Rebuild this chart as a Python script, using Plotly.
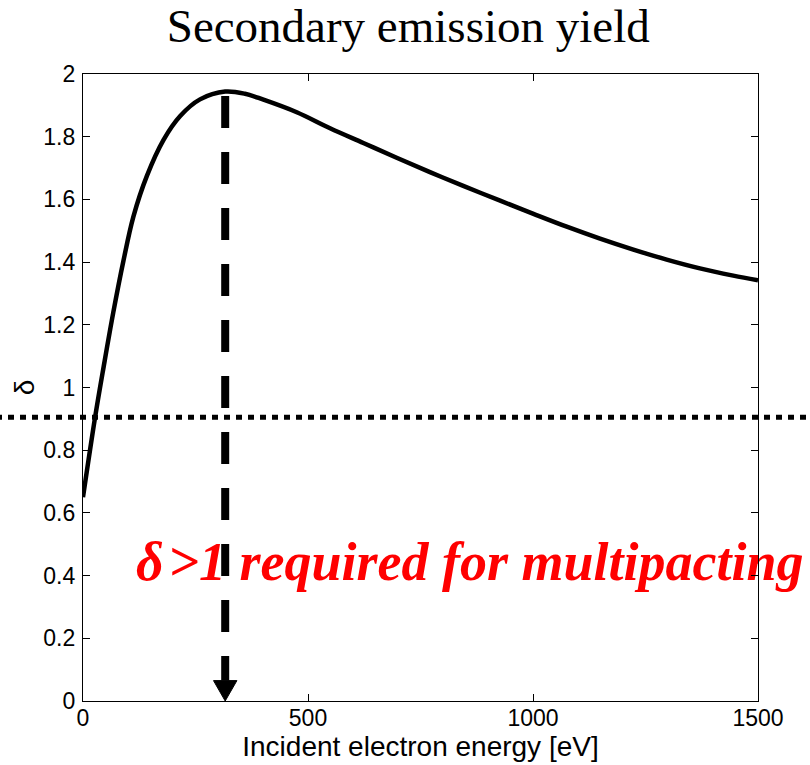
import numpy as np
import plotly.graph_objects as go

# Secondary emission yield curve: incident energy [eV] vs yield delta
energy = [0, 27, 46, 67, 90, 112, 142, 179, 216, 260, 316, 360, 401, 475, 549,
          623, 697, 771, 845, 927, 1001, 1075, 1149, 1223, 1297, 1371, 1445, 1500]
delta = [0.65, 0.906, 1.067, 1.237, 1.405, 1.545, 1.675, 1.79, 1.866, 1.919, 1.944, 1.937,
         1.918, 1.878, 1.827, 1.780, 1.733, 1.687, 1.643, 1.596, 1.554, 1.513, 1.475,
         1.440, 1.408, 1.380, 1.357, 1.342]

threshold = 0.905          # multipacting threshold level (dotted line)
x_ticks = [0, 500, 1000, 1500]
y_ticks = [0, 0.2, 0.4, 0.6, 0.8, 1, 1.2, 1.4, 1.6, 1.8, 2]
note = "δ\u200a>1 required for multipacting"

x_range = [0, 1500]
y_range = [0, 2]

i_peak = int(np.argmax(delta))
e_peak = energy[i_peak]
d_peak = delta[i_peak]

fig = go.Figure()

fig.add_trace(go.Scatter(
    x=energy, y=delta, mode="lines",
    line=dict(color="black", width=4.5, shape="spline", smoothing=1.0),
    hoverinfo="skip", showlegend=False,
))

# red annotation text (a trace, so the dashed marker line sits on top of it)
fig.add_trace(go.Scatter(
    x=[118], y=[0.43], mode="text", text=[note],
    textposition="middle right", cliponaxis=False,
    textfont=dict(family="Liberation Serif", size=54, color="#ff0000",
                  weight="bold", style="italic"),
    hoverinfo="skip", showlegend=False,
))

head_h = 0.065
head_w = 26

shapes = [
    # dotted threshold line across the full width
    dict(type="line", xref="paper", yref="paper",
         x0=-0.2, x1=1.2,
         y0=(threshold - y_range[0]) / (y_range[1] - y_range[0]),
         y1=(threshold - y_range[0]) / (y_range[1] - y_range[0]),
         line=dict(color="black", width=5, dash="6px,6px"), layer="above"),
    # dashed drop line from the maximum yield
    dict(type="line", xref="x", yref="y",
         x0=e_peak, x1=e_peak, y0=d_peak - 0.014, y1=head_h,
         line=dict(color="black", width=8, dash="32px,24px"), layer="above"),
    # arrow head
    dict(type="path", xref="x", yref="y",
         path=f"M {e_peak - head_w},{head_h} L {e_peak + head_w},{head_h} L {e_peak},0 Z",
         fillcolor="black", line=dict(color="black", width=1), layer="above"),
]

axis_common = dict(
    showgrid=False, zeroline=False, showline=True, linecolor="black", linewidth=1.3,
    mirror="ticks", ticks="inside", ticklen=7, tickcolor="black", tickwidth=1,
    automargin=False,
    tickfont=dict(family="Liberation Sans", size=23, color="black"),
)

fig.update_layout(
    width=810, height=765,
    margin=dict(l=83, r=52, t=74, b=64),
    paper_bgcolor="white", plot_bgcolor="white",
    title=dict(text="Secondary emission yield", x=0.504, xanchor="center",
               y=1 - 42 / 765, yanchor="bottom", yref="container",
               automargin=False,
               font=dict(family="Liberation Serif", size=47, color="black")),
    xaxis=dict(range=x_range, tickvals=x_ticks, ticklabelstandoff=-4,
               title=dict(text="Incident electron energy [eV]", standoff=2,
                          font=dict(family="Liberation Sans", size=28, color="black")),
               **axis_common),
    yaxis=dict(range=y_range, tickvals=y_ticks, ticklabelstandoff=2,
               title=dict(text="δ", standoff=0,
                          font=dict(family="Liberation Sans", size=28, color="black")),
               **axis_common),
    shapes=shapes,
)

fig.write_html("out.html")
